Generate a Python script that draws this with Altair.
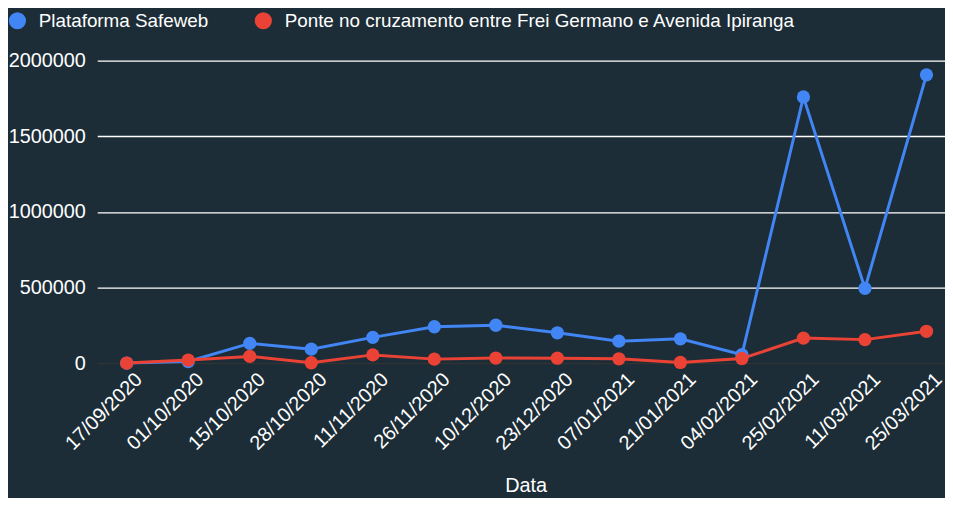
import altair as alt
import pandas as pd

dates = ["17/09/2020", "01/10/2020", "15/10/2020", "28/10/2020", "11/11/2020",
         "26/11/2020", "10/12/2020", "23/12/2020", "07/01/2021", "21/01/2021",
         "04/02/2021", "25/02/2021", "11/03/2021", "25/03/2021"]
safeweb = [0, 10000, 130000, 92000, 170000, 240000, 250000, 200000, 145000,
           160000, 55000, 1760000, 494000, 1906000]
ponte = [0, 20000, 44000, 2000, 54000, 26000, 33000, 32000, 28000, 4000,
         30000, 165000, 155000, 210000]
series = ["Plataforma Safeweb", "Ponte no cruzamento entre Frei Germano e Avenida Ipiranga"]
colors = ["#4285F4", "#EA4335"]

rows = []
for i, d in enumerate(dates):
    rows.append({"Data": d, "serie": series[0], "valor": safeweb[i], "ord": 0})
for i, d in enumerate(dates):
    rows.append({"Data": d, "serie": series[1], "valor": ponte[i], "ord": 1})
df = pd.DataFrame(rows)

FONT = "Liberation Sans"

x = alt.X("Data:N", sort=dates, title="Data",
          scale=alt.Scale(type="point", padding=0.39, align=0.614),
          axis=alt.Axis(labelAngle=-45, labelFontSize=20, labelColor="#ffffff",
                        labelOffset=5,
                        titleFontSize=20, titleColor="#ffffff", titleFontWeight="normal",
                        titlePadding=23, titleAnchor="start", titleAlign="center", titleX=432,
                        ticks=False, domain=False, grid=False,
                        labelPadding=6))
y = alt.Y("valor:Q", title=None,
          scale=alt.Scale(domain=[0, 2000000], nice=False),
          axis=alt.Axis(values=[0, 500000, 1000000, 1500000, 2000000], format="d",
                        labelFontSize=20, labelColor="#ffffff", ticks=False, domain=False,
                        labelPadding=12,
                        gridColor=alt.condition("datum.value === 0", alt.value("#333333"), alt.value("#ffffff")),
                        gridWidth=1.3))
color = alt.Color("serie:N", scale=alt.Scale(domain=series, range=colors), title=None,
                  legend=alt.Legend(orient="none", legendX=-90, legendY=-50, direction="horizontal",
                                    symbolType="circle", symbolSize=300, symbolStrokeWidth=0,
                                    labelFontSize=19, labelColor="#ffffff", labelLimit=700,
                                    columnPadding=45, labelOffset=12, padding=0))

lines = alt.Chart(df).mark_line(strokeWidth=3).encode(x=x, y=y, color=color, detail="serie:N")
points = alt.Chart(df).mark_circle(size=180, opacity=1).encode(
    x=x, y=y, color=color, order=alt.Order("ord:Q"))

chart = alt.layer(lines, points).properties(
    width=855, height=305,
    background="#1c2d37",
    autosize=alt.AutoSizeParams(type="none"),
    padding={"left": 90, "top": 51, "right": 0, "bottom": 134},
).configure(font=FONT).configure_view(strokeWidth=0)

chart.save("out.html", embed_options={"renderer": "svg", "actions": False})
